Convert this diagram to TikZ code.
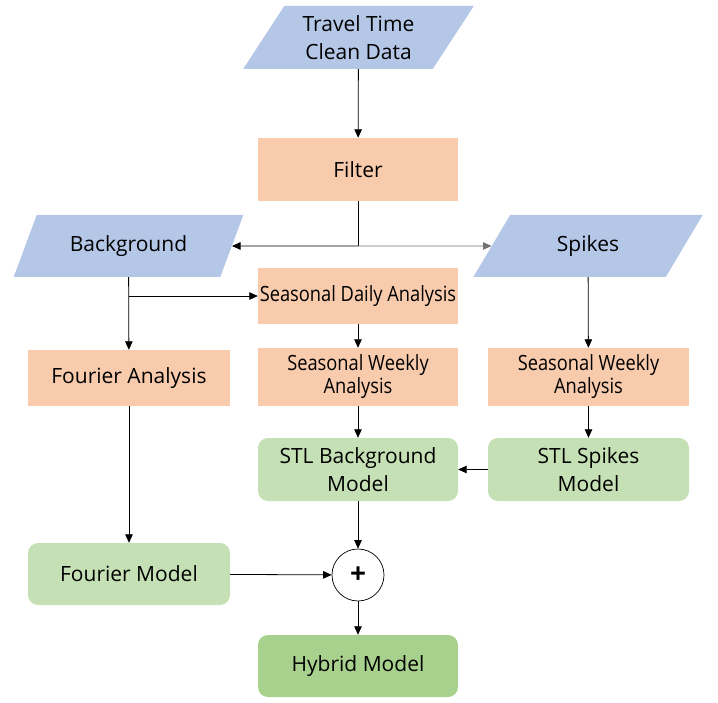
\documentclass[tikz,border=0pt]{standalone}
\usepackage{fontspec}
\setmainfont{Open Sans}
\usetikzlibrary{shapes.geometric,arrows.meta}
\definecolor{pblue}{HTML}{B4C7E7}
\definecolor{porange}{HTML}{F8CBAD}
\definecolor{pgreen}{HTML}{C5E0B4}
\definecolor{dgreen}{HTML}{A9D18E}
\tikzset{
  iobox/.style={trapezium, trapezium left angle=55, trapezium right angle=125,
    trapezium stretches=true, fill=pblue, minimum width=230pt, minimum height=62pt,
    inner sep=0pt, align=center, font=\fontsize{21}{28}\selectfont},
  procbox/.style={rectangle, fill=porange, minimum width=200pt, inner sep=0pt,
    align=center, font=\fontsize{21}{28}\selectfont},
  seasbox/.style={rectangle, fill=porange, minimum width=200pt, inner sep=0pt,
    align=center, font=\fontsize{21}{23}\selectfont},
  modelbox/.style={rectangle, rounded corners=10pt, fill=pgreen, minimum width=200pt,
    minimum height=63pt, inner sep=0pt, align=center, font=\fontsize{21}{28}\selectfont},
  arr/.style={-{Triangle[length=8.5pt,width=7.5pt]}, line width=0.8pt},
  ln/.style={line width=0.8pt},
}
\newcommand{\sq}[1]{\scalebox{0.87}[1]{#1}}
\begin{document}
\begin{tikzpicture}[x=1pt,y=-1pt]
\useasboundingbox (0,0) rectangle (718,703);
\node[iobox, minimum height=63pt, minimum width=231pt] (travel) at (358.5,37.5) {Travel Time\\Clean Data};
\node[procbox, minimum height=63pt] (filter) at (358,169.5) {Filter};
\node[iobox] (bg) at (128.5,246) {Background};
\node[iobox] (spikes) at (588,246) {Spikes};
\node[seasbox, minimum height=56pt] (daily) at (358,296) {\sq{Seasonal Daily Analysis}};
\node[procbox, minimum height=56pt, minimum width=202pt] (fourier) at (129,378) {Fourier Analysis};
\node[seasbox, minimum height=58pt] (weekly) at (358,377) {\sq{Seasonal Weekly}\\\sq{Analysis}};
\node[seasbox, minimum height=58pt, minimum width=201pt] (weeklys) at (588.5,377) {\sq{Seasonal Weekly}\\\sq{Analysis}};
\node[modelbox] (stlbg) at (358,469.5) {STL Background\\Model};
\node[modelbox, minimum width=201pt] (stlsp) at (588.5,469.5) {STL Spikes\\Model};
\node[modelbox, minimum width=202pt, minimum height=62pt] (fmodel) at (129,574) {Fourier Model};
\node[circle, draw, line width=0.7pt, fill=white, minimum size=52pt, inner sep=0pt,
  font=\fontsize{28}{28}\selectfont\bfseries] (plus) at (358,575) {+};
\node[modelbox, fill=dgreen, minimum height=62pt] (hybrid) at (358,666) {Hybrid Model};
\coordinate (split) at (358,246);
\coordinate (bgsplit) at (128.5,296);
\draw[arr] (travel) -- (filter);
\draw[ln] (filter) -- (split);
\draw[arr] (split) -- (bg);
\draw[arr, draw=black!55] (split) -- (spikes);
\draw[arr] (bg) -- (fourier);
\draw[arr] (bgsplit) -- (daily);
\draw[arr] (daily) -- (weekly);
\draw[arr] (spikes) -- (weeklys);
\draw[arr] (weekly) -- (stlbg);
\draw[arr] (weeklys) -- (stlsp);
\draw[arr] (stlsp) -- (stlbg);
\draw[arr] (fourier) -- (fmodel);
\draw[arr] (stlbg) -- (plus);
\draw[arr] (fmodel) -- (plus);
\draw[arr] (plus) -- (hybrid);
\end{tikzpicture}
\end{document}
